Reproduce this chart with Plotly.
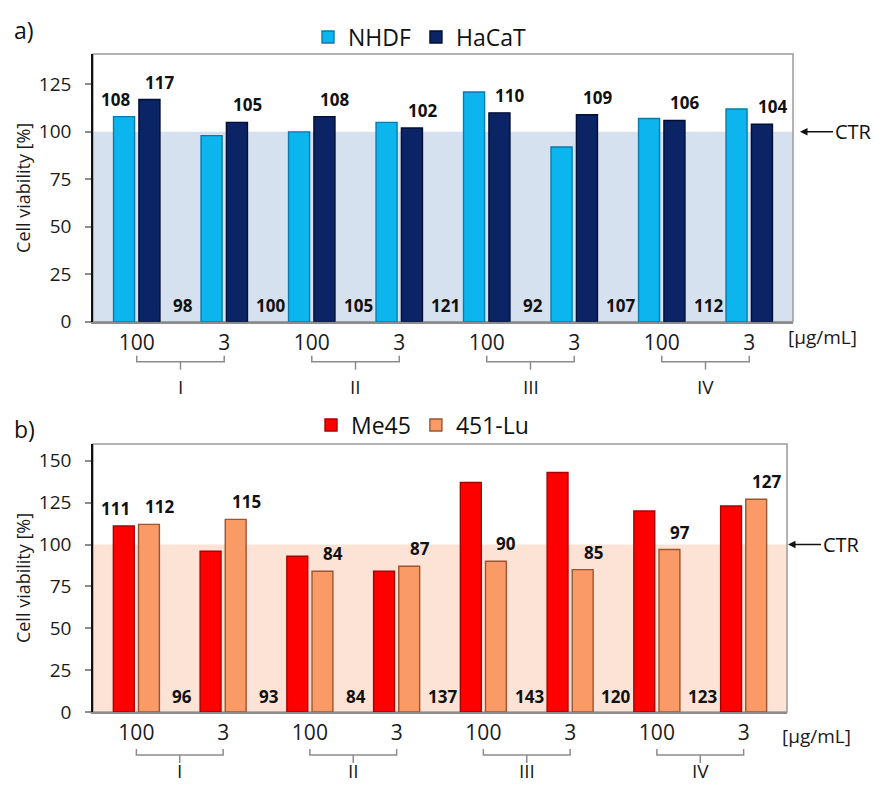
import plotly.graph_objects as go

# ---- data ---------------------------------------------------------------
doses = ["100", "3", "100", "3", "100", "3", "100", "3"]
compounds = ["I", "II", "III", "IV"]
dose_unit = "[µg/mL]"

nhdf = [108, 98, 100, 105, 121, 92, 107, 112]
hacat = [117, 105, 108, 102, 110, 109, 106, 104]
me45 = [111, 96, 93, 84, 137, 143, 120, 123]
lu451 = [112, 115, 84, 87, 90, 85, 97, 127]
ctr_level = 100

# ---- page geometry --------------------------------------------------------
W, H = 874, 787
FONT = "Open Sans"


def fx(p):
    return p / W


def fy(p):
    return 1 - p / H


xs = list(range(len(doses)))

panels = [
    dict(tag="a)", ax="", s1=("NHDF", nhdf, "#0DB5EE", "#087BAA"),
         s2=("HaCaT", hacat, "#0B2466", "#020E33"),
         band="#D6E1F0", xdom=(93, 793), ydom=(54, 321.7), yr=141,
         legend="legend", leg_y=37, tag_y=30, tick_y=337, br_y=361.7,
         rom_y=387, ctr_x=800),
    dict(tag="b)", ax="2", s1=("Me45", me45, "#FF0000", "#A80000"),
         s2=("451-Lu", lu451, "#FA9A66", "#9C5530"),
         band="#FDE3D5", xdom=(93, 787), ydom=(444, 712), yr=160,
         legend="legend2", leg_y=425, tag_y=429, tick_y=736, br_y=755,
         rom_y=771, ctr_x=788),
]

fig = go.Figure()
shapes = []
annotations = []
layout_axes = {}

for p in panels:
    xa = "x" + p["ax"]
    ya = "y" + p["ax"]
    xkey = "xaxis" + p["ax"]
    ykey = "yaxis" + p["ax"]

    for name, vals, col, edge in (p["s1"], p["s2"]):
        fig.add_trace(go.Bar(
            x=xs, y=vals, name=name, xaxis=xa, yaxis=ya,
            legend=p["legend"],
            marker=dict(color=col, line=dict(color=edge, width=1.4)),
            hoverinfo="y+name",
        ))

    layout_axes[xkey] = dict(
        domain=[fx(p["xdom"][0]), fx(p["xdom"][1])],
        anchor=ya, range=[-0.5, len(doses) - 0.5],
        tickvals=xs, ticktext=doses, ticks="",
        tickfont=dict(size=21, color="#1a1a1a", family=FONT),
        ticklabelstandoff=1,
        showline=True, linecolor="#8c8c8c", linewidth=1.5,
        showgrid=False, zeroline=False, fixedrange=True, automargin=False,
    )
    layout_axes[ykey] = dict(
        domain=[fy(p["ydom"][1]), fy(p["ydom"][0])],
        anchor=xa, range=[0, p["yr"]], dtick=25, tick0=0,
        ticks="outside", ticklen=6, tickcolor="#8c8c8c", tickwidth=1.5,
        tickfont=dict(size=19, color="#1a1a1a", family=FONT),
        ticklabelstandoff=10,
        showline=True, linecolor="#111111", linewidth=1.5,
        showgrid=False, zeroline=False, automargin=False,
        title=dict(text="Cell viability [%]",
                   font=dict(size=18, color="#1a1a1a", family=FONT),
                   standoff=4),
    )

    # control band (0-100 %)
    shapes.append(dict(type="rect", xref=xa + " domain", yref=ya,
                       x0=0, x1=1, y0=0, y1=ctr_level,
                       fillcolor=p["band"], line=dict(width=0), layer="below"))
    # plot frame
    shapes.append(dict(type="rect", xref=xa + " domain", yref=ya + " domain",
                       x0=0, x1=1, y0=0, y1=1,
                       line=dict(color="#9a9a9a", width=1.5), layer="below"))

    # value labels: first series sits near the base (first one on top),
    # second series sits above each bar
    s1_vals = p["s1"][1]
    s2_vals = p["s2"][1]
    lab_font = dict(size=17, color="#111111", family=FONT, weight="bold")
    for i, v in enumerate(s1_vals):
        if i == 0:
            annotations.append(dict(x=i, y=v, xref=xa, yref=ya, text=str(v),
                                    showarrow=False, xshift=-21, yshift=4,
                                    yanchor="bottom", font=lab_font))
        else:
            annotations.append(dict(x=i, y=0, xref=xa, yref=ya, text=str(v),
                                    showarrow=False, xshift=-41, yshift=16,
                                    yanchor="middle", font=lab_font))
    for i, v in enumerate(s2_vals):
        annotations.append(dict(x=i, y=v, xref=xa, yref=ya, text=str(v),
                                showarrow=False, xshift=23, yshift=4,
                                yanchor="bottom", font=lab_font))

    # compound brackets under each dose pair
    for k, comp in enumerate(compounds):
        a, b = 2 * k, 2 * k + 1
        m = (a + b) / 2
        yb = fy(p["br_y"])
        yu = fy(p["br_y"] - 6)
        yd = fy(p["br_y"] + 8)
        line = dict(color="#8c8c8c", width=1.5)
        shapes.append(dict(type="path", xref=xa, yref="paper",
                           path=f"M{a},{yu} L{a},{yb} L{b},{yb} L{b},{yu}",
                           line=line))
        shapes.append(dict(type="line", xref=xa, yref="paper",
                           x0=m, x1=m, y0=yb, y1=yd, line=line))
        annotations.append(dict(x=m, y=fy(p["rom_y"]), xref=xa, yref="paper",
                                text=comp, showarrow=False, yanchor="middle",
                                font=dict(size=19, color="#1a1a1a",
                                          family=FONT)))

    # dose unit
    annotations.append(dict(x=fx(p["xdom"][1] + 29), y=fy(p["tick_y"]),
                            xref="paper", yref="paper", text=dose_unit,
                            showarrow=False, xanchor="center",
                            yanchor="middle",
                            font=dict(size=19, color="#1a1a1a", family=FONT)))
    # CTR arrow
    annotations.append(dict(x=fx(p["ctr_x"]), y=ctr_level, xref="paper",
                            yref=ya, text="CTR", showarrow=True,
                            ax=53, ay=0, arrowhead=2, arrowsize=1,
                            arrowwidth=1.5, arrowcolor="#111111",
                            font=dict(size=20, color="#111111", family=FONT)))
    # panel tag
    annotations.append(dict(x=fx(12), y=fy(p["tag_y"]), xref="paper",
                            yref="paper", text=p["tag"], showarrow=False,
                            xanchor="left", yanchor="middle",
                            font=dict(size=23, color="#111111", family=FONT)))

legend_common = dict(orientation="h", xanchor="left", yanchor="middle",
                     font=dict(size=23, color="#111111", family=FONT),
                     bgcolor="rgba(0,0,0,0)", borderwidth=0,
                     itemclick=False, itemdoubleclick=False)

fig.update_layout(
    width=W, height=H,
    margin=dict(l=0, r=0, t=0, b=0, autoexpand=False),
    paper_bgcolor="white", plot_bgcolor="rgba(0,0,0,0)",
    barmode="group", bargap=0.42, bargroupgap=0.17,
    showlegend=True,
    legend=dict(x=fx(308), y=fy(37), **legend_common),
    legend2=dict(x=fx(311), y=fy(425), **legend_common),
    shapes=shapes, annotations=annotations,
    font=dict(family=FONT),
    **layout_axes,
)

fig.write_html("out.html")
